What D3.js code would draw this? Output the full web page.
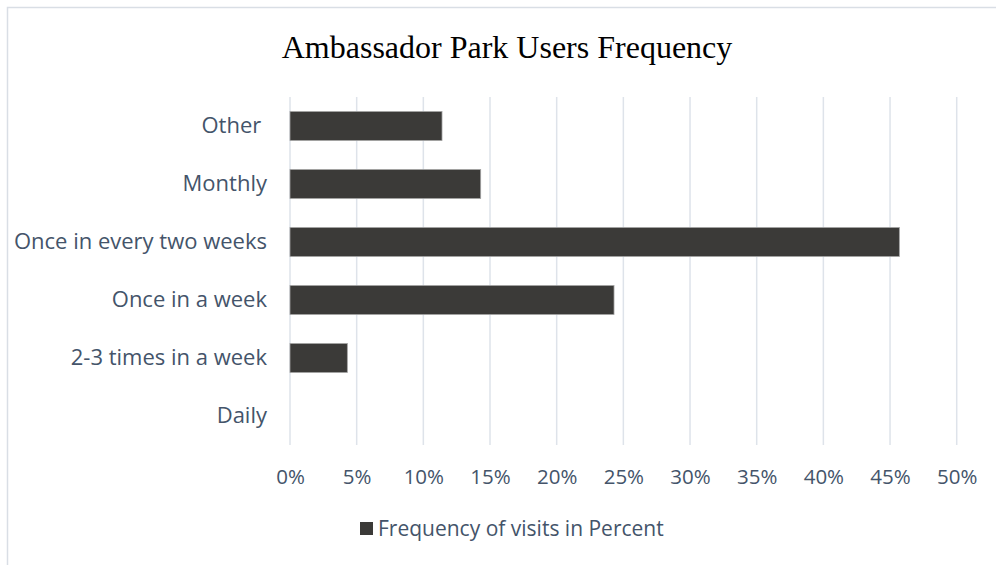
<!DOCTYPE html>
<html>
<head>
<meta charset="utf-8">
<script src="https://cdn.jsdelivr.net/npm/d3@7"></script>
<style>
  html, body { margin: 0; padding: 0; background: #fff; }
  svg { display: block; }
</style>
</head>
<body>
<svg id="chart" width="996" height="565"></svg>
<script>
const categories = ["Other ", "Monthly", "Once in every two weeks", "Once in a week", "2-3 times in a week", "Daily"];
const values = [11.4, 14.3, 45.7, 24.3, 4.3, 0];
const xTicks = [0, 5, 10, 15, 20, 25, 30, 35, 40, 45, 50];
const title = "Ambassador Park Users Frequency";
const seriesName = "Frequency of visits in Percent";

const svg = d3.select("#chart");
const textColor = "#44546A";
const barColor = "#3B3A38";
const gridColor = "#DEE3EA";
const labelFont = "'Open Sans', 'Noto Sans', sans-serif";

// outer chart border
svg.append("rect")
  .attr("x", 7.5).attr("y", 7.5)
  .attr("width", 1000).attr("height", 600)
  .attr("fill", "#fff")
  .attr("stroke", "#D9DEE5").attr("stroke-width", 1.5);

const x = d3.scaleLinear().domain([0, 50]).range([290, 956.7]);
const y = d3.scaleBand().domain(categories).range([97, 445]).paddingInner(0.5).paddingOuter(0.25);

// title
svg.append("text")
  .attr("x", 507).attr("y", 58)
  .attr("text-anchor", "middle")
  .attr("font-family", "'Liberation Serif', 'Times New Roman', serif")
  .attr("font-size", 32)
  .attr("fill", "#000")
  .text(title);

// gridlines
svg.append("g").selectAll("line").data(xTicks).join("line")
  .attr("x1", d => x(d)).attr("x2", d => x(d))
  .attr("y1", 97).attr("y2", 445)
  .attr("stroke", gridColor).attr("stroke-width", 1.5);

// x axis labels
const xAxis = d3.axisBottom(x).tickValues(xTicks).tickFormat(d => d + "%").tickSize(0).tickPadding(0);
const gx = svg.append("g").attr("transform", "translate(0,470)").call(xAxis);
gx.select(".domain").remove();
gx.selectAll("text")
  .attr("font-family", labelFont).attr("font-size", 20.5)
  .attr("fill", textColor).attr("dy", "0.32em").attr("y", 7);

// y axis labels
const yAxis = d3.axisLeft(y).tickSize(0).tickPadding(0);
const gy = svg.append("g").attr("transform", "translate(267,0)").call(yAxis);
gy.select(".domain").remove();
gy.selectAll("text")
  .attr("font-family", labelFont).attr("font-size", 22)
  .attr("fill", textColor)
  .style("white-space", "pre");

// bars
svg.append("g").selectAll("rect").data(values.map((v, i) => ({c: categories[i], v}))).join("rect")
  .filter(d => d.v > 0)
  .attr("x", x(0))
  .attr("y", d => y(d.c))
  .attr("width", d => x(d.v) - x(0))
  .attr("height", y.bandwidth())
  .attr("fill", barColor)
  .attr("stroke", "#A3A3A3").attr("stroke-width", 0.8);

// legend
const lg = svg.append("g");
lg.append("rect").attr("x", 360).attr("y", 522).attr("width", 13).attr("height", 13).attr("fill", barColor);
lg.append("text")
  .attr("x", 378).attr("y", 529).attr("dy", "0.35em")
  .attr("font-family", labelFont).attr("font-size", 21)
  .attr("fill", textColor)
  .text(seriesName);
</script>
</body>
</html>
